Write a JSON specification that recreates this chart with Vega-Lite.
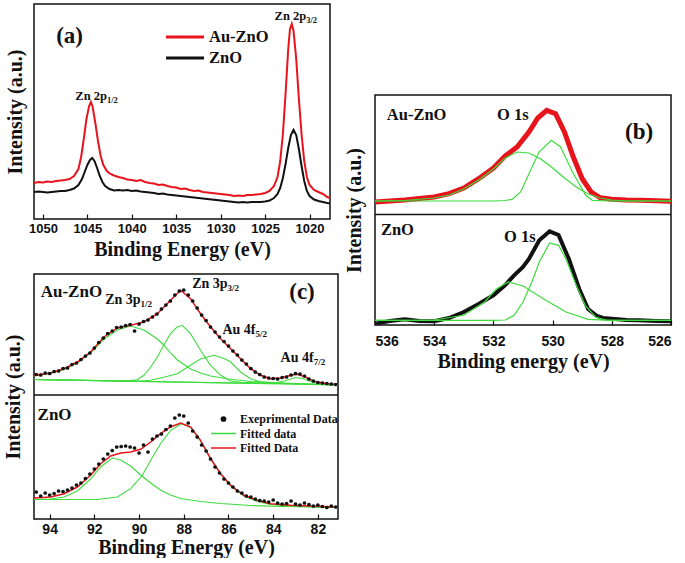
{
"$schema": "https://vega.github.io/schema/vega-lite/v6.json",
"padding": {"left": 2, "top": 3, "right": 2, "bottom": 0},
"config": {
 "view": {"stroke": "#111", "strokeWidth": 1.5},
 "axis": {"grid": false, "domain": false, "labelFont": "Liberation Sans", "labelFontWeight": "bold", "labelFontSize": 13, "labelColor": "#111", "titleFont": "Liberation Serif", "titleFontWeight": "bold", "titleFontSize": 20, "titleColor": "#111", "tickColor": "#111", "tickSize": -5, "tickWidth": 1.2, "minExtent": 0, "format": "d"},
 "axisY": {"labels": false, "ticks": false},
 "text": {"font": "Liberation Serif", "fontWeight": "bold", "color": "#111"},
 "legend": {"labelFont": "Liberation Serif", "labelFontWeight": "bold", "labelColor": "#111", "padding": 0, "orient": "none"}
},
"datasets": {
 "a": [
  {"e":1051.0,"v":36,"s":"Au-ZnO"},{"e":1050.5,"v":37,"s":"Au-ZnO"},{"e":1050.0,"v":36.5,"s":"Au-ZnO"},{"e":1049.5,"v":37.5,"s":"Au-ZnO"},{"e":1049.0,"v":37,"s":"Au-ZnO"},{"e":1048.5,"v":38,"s":"Au-ZnO"},{"e":1048.0,"v":38.5,"s":"Au-ZnO"},{"e":1047.5,"v":39,"s":"Au-ZnO"},{"e":1047.0,"v":40,"s":"Au-ZnO"},{"e":1046.5,"v":43,"s":"Au-ZnO"},{"e":1046.0,"v":50,"s":"Au-ZnO"},{"e":1045.7,"v":62,"s":"Au-ZnO"},{"e":1045.4,"v":80,"s":"Au-ZnO"},{"e":1045.1,"v":100,"s":"Au-ZnO"},{"e":1044.8,"v":113,"s":"Au-ZnO"},{"e":1044.6,"v":117,"s":"Au-ZnO"},{"e":1044.4,"v":112,"s":"Au-ZnO"},{"e":1044.1,"v":96,"s":"Au-ZnO"},{"e":1043.8,"v":78,"s":"Au-ZnO"},{"e":1043.5,"v":63,"s":"Au-ZnO"},{"e":1043.2,"v":54,"s":"Au-ZnO"},{"e":1042.8,"v":48,"s":"Au-ZnO"},{"e":1042.4,"v":45,"s":"Au-ZnO"},{"e":1042.0,"v":43.5,"s":"Au-ZnO"},{"e":1041.5,"v":42,"s":"Au-ZnO"},{"e":1041.0,"v":41,"s":"Au-ZnO"},{"e":1040.5,"v":39.5,"s":"Au-ZnO"},{"e":1040.0,"v":39,"s":"Au-ZnO"},{"e":1039.5,"v":38,"s":"Au-ZnO"},{"e":1039.0,"v":39,"s":"Au-ZnO"},{"e":1038.5,"v":37,"s":"Au-ZnO"},{"e":1038.0,"v":36,"s":"Au-ZnO"},{"e":1037.5,"v":35.5,"s":"Au-ZnO"},{"e":1037.0,"v":34,"s":"Au-ZnO"},{"e":1036.5,"v":34.5,"s":"Au-ZnO"},{"e":1036.0,"v":33,"s":"Au-ZnO"},{"e":1035.5,"v":32,"s":"Au-ZnO"},{"e":1035.0,"v":31.5,"s":"Au-ZnO"},{"e":1034.5,"v":30,"s":"Au-ZnO"},{"e":1034.0,"v":30.5,"s":"Au-ZnO"},{"e":1033.5,"v":29,"s":"Au-ZnO"},{"e":1033.0,"v":28,"s":"Au-ZnO"},{"e":1032.5,"v":28.5,"s":"Au-ZnO"},{"e":1032.0,"v":27,"s":"Au-ZnO"},{"e":1031.5,"v":26.5,"s":"Au-ZnO"},{"e":1031.0,"v":26,"s":"Au-ZnO"},{"e":1030.5,"v":25.5,"s":"Au-ZnO"},{"e":1030.0,"v":25,"s":"Au-ZnO"},{"e":1029.5,"v":24.5,"s":"Au-ZnO"},{"e":1029.0,"v":24,"s":"Au-ZnO"},{"e":1028.5,"v":23,"s":"Au-ZnO"},{"e":1028.0,"v":23.5,"s":"Au-ZnO"},{"e":1027.5,"v":23,"s":"Au-ZnO"},{"e":1027.0,"v":24,"s":"Au-ZnO"},{"e":1026.5,"v":24,"s":"Au-ZnO"},{"e":1026.0,"v":24.5,"s":"Au-ZnO"},{"e":1025.5,"v":25,"s":"Au-ZnO"},{"e":1025.0,"v":26,"s":"Au-ZnO"},{"e":1024.5,"v":28,"s":"Au-ZnO"},{"e":1024.0,"v":33,"s":"Au-ZnO"},{"e":1023.6,"v":42,"s":"Au-ZnO"},{"e":1023.3,"v":58,"s":"Au-ZnO"},{"e":1023.0,"v":85,"s":"Au-ZnO"},{"e":1022.7,"v":125,"s":"Au-ZnO"},{"e":1022.4,"v":170,"s":"Au-ZnO"},{"e":1022.2,"v":190,"s":"Au-ZnO"},{"e":1022.0,"v":195,"s":"Au-ZnO"},{"e":1021.8,"v":188,"s":"Au-ZnO"},{"e":1021.5,"v":160,"s":"Au-ZnO"},{"e":1021.2,"v":120,"s":"Au-ZnO"},{"e":1020.9,"v":85,"s":"Au-ZnO"},{"e":1020.6,"v":58,"s":"Au-ZnO"},{"e":1020.3,"v":42,"s":"Au-ZnO"},{"e":1020.0,"v":34,"s":"Au-ZnO"},{"e":1019.5,"v":29,"s":"Au-ZnO"},{"e":1019.0,"v":27,"s":"Au-ZnO"},{"e":1018.5,"v":25,"s":"Au-ZnO"},{"e":1018.0,"v":22,"s":"Au-ZnO"},{"e":1017.7,"v":21,"s":"Au-ZnO"},
  {"e":1051.0,"v":27,"s":"ZnO"},{"e":1050.5,"v":27.5,"s":"ZnO"},{"e":1050.0,"v":27,"s":"ZnO"},{"e":1049.5,"v":26.5,"s":"ZnO"},{"e":1049.0,"v":27,"s":"ZnO"},{"e":1048.5,"v":27.5,"s":"ZnO"},{"e":1048.0,"v":28,"s":"ZnO"},{"e":1047.5,"v":28,"s":"ZnO"},{"e":1047.0,"v":29,"s":"ZnO"},{"e":1046.5,"v":30.5,"s":"ZnO"},{"e":1046.0,"v":34,"s":"ZnO"},{"e":1045.6,"v":40,"s":"ZnO"},{"e":1045.3,"v":47,"s":"ZnO"},{"e":1045.0,"v":54,"s":"ZnO"},{"e":1044.7,"v":59,"s":"ZnO"},{"e":1044.45,"v":61,"s":"ZnO"},{"e":1044.2,"v":58,"s":"ZnO"},{"e":1043.9,"v":51,"s":"ZnO"},{"e":1043.6,"v":43,"s":"ZnO"},{"e":1043.3,"v":37,"s":"ZnO"},{"e":1043.0,"v":33,"s":"ZnO"},{"e":1042.5,"v":30,"s":"ZnO"},{"e":1042.0,"v":28.5,"s":"ZnO"},{"e":1041.5,"v":29,"s":"ZnO"},{"e":1041.0,"v":28.5,"s":"ZnO"},{"e":1040.5,"v":29,"s":"ZnO"},{"e":1040.0,"v":28,"s":"ZnO"},{"e":1039.5,"v":28.5,"s":"ZnO"},{"e":1039.0,"v":27.5,"s":"ZnO"},{"e":1038.5,"v":27,"s":"ZnO"},{"e":1038.0,"v":26.5,"s":"ZnO"},{"e":1037.5,"v":26,"s":"ZnO"},{"e":1037.0,"v":25,"s":"ZnO"},{"e":1036.5,"v":25.5,"s":"ZnO"},{"e":1036.0,"v":24.5,"s":"ZnO"},{"e":1035.5,"v":24,"s":"ZnO"},{"e":1035.0,"v":23.5,"s":"ZnO"},{"e":1034.5,"v":23,"s":"ZnO"},{"e":1034.0,"v":22.5,"s":"ZnO"},{"e":1033.5,"v":22,"s":"ZnO"},{"e":1033.0,"v":21.5,"s":"ZnO"},{"e":1032.5,"v":21,"s":"ZnO"},{"e":1032.0,"v":20.5,"s":"ZnO"},{"e":1031.5,"v":20,"s":"ZnO"},{"e":1031.0,"v":19.5,"s":"ZnO"},{"e":1030.5,"v":19,"s":"ZnO"},{"e":1030.0,"v":18.5,"s":"ZnO"},{"e":1029.5,"v":18,"s":"ZnO"},{"e":1029.0,"v":17.5,"s":"ZnO"},{"e":1028.5,"v":17,"s":"ZnO"},{"e":1028.0,"v":16.5,"s":"ZnO"},{"e":1027.5,"v":17,"s":"ZnO"},{"e":1027.0,"v":16.5,"s":"ZnO"},{"e":1026.5,"v":17,"s":"ZnO"},{"e":1026.0,"v":17,"s":"ZnO"},{"e":1025.5,"v":17,"s":"ZnO"},{"e":1025.0,"v":17.5,"s":"ZnO"},{"e":1024.5,"v":18.5,"s":"ZnO"},{"e":1024.0,"v":21,"s":"ZnO"},{"e":1023.6,"v":25,"s":"ZnO"},{"e":1023.3,"v":31,"s":"ZnO"},{"e":1023.0,"v":41,"s":"ZnO"},{"e":1022.7,"v":55,"s":"ZnO"},{"e":1022.4,"v":71,"s":"ZnO"},{"e":1022.1,"v":84,"s":"ZnO"},{"e":1021.8,"v":89,"s":"ZnO"},{"e":1021.5,"v":84,"s":"ZnO"},{"e":1021.2,"v":70,"s":"ZnO"},{"e":1020.9,"v":53,"s":"ZnO"},{"e":1020.6,"v":38,"s":"ZnO"},{"e":1020.3,"v":28,"s":"ZnO"},{"e":1020.0,"v":23,"s":"ZnO"},{"e":1019.5,"v":19.5,"s":"ZnO"},{"e":1019.0,"v":18,"s":"ZnO"},{"e":1018.5,"v":17,"s":"ZnO"},{"e":1018.0,"v":16,"s":"ZnO"},{"e":1017.7,"v":15.5,"s":"ZnO"}
 ],
 "annA_main": [{"e":1042.79,"v":123,"t":"Zn 2p"},{"e":1020.38,"v":203,"t":"Zn 2p"}],
 "annA_sub": [{"e":1042.79,"v":119,"t":"1/2"},{"e":1020.38,"v":199,"t":"3/2"}],
 "annA_label": [{"e":1047.0,"v":183,"t":"(a)"}],
 "b": [
  {"e":536,"v":123,"g":"uRed"},{"e":535.5,"v":124,"g":"uRed"},{"e":535,"v":125,"g":"uRed"},{"e":534.5,"v":126.5,"g":"uRed"},{"e":534,"v":128,"g":"uRed"},{"e":533.5,"v":131.3,"g":"uRed"},{"e":533,"v":137,"g":"uRed"},{"e":532.5,"v":146.3,"g":"uRed"},{"e":532,"v":157,"g":"uRed"},{"e":531.6,"v":169,"g":"uRed"},{"e":531.2,"v":178,"g":"uRed"},{"e":530.8,"v":193,"g":"uRed"},{"e":530.5,"v":207,"g":"uRed"},{"e":530.2,"v":214.7,"g":"uRed"},{"e":529.9,"v":211.3,"g":"uRed"},{"e":529.6,"v":193,"g":"uRed"},{"e":529.3,"v":168,"g":"uRed"},{"e":529.0,"v":146.3,"g":"uRed"},{"e":528.7,"v":133,"g":"uRed"},{"e":528.4,"v":127.3,"g":"uRed"},{"e":528.0,"v":125.7,"g":"uRed"},{"e":527.5,"v":125,"g":"uRed"},{"e":527,"v":124.7,"g":"uRed"},{"e":526.5,"v":124.2,"g":"uRed"},{"e":526,"v":123.7,"g":"uRed"},
  {"e":536,"v":124,"g":"uG1"},{"e":535,"v":124.5,"g":"uG1"},{"e":534,"v":127,"g":"uG1"},{"e":533.5,"v":130,"g":"uG1"},{"e":533,"v":136,"g":"uG1"},{"e":532.5,"v":145,"g":"uG1"},{"e":532,"v":156,"g":"uG1"},{"e":531.6,"v":167,"g":"uG1"},{"e":531.2,"v":173,"g":"uG1"},{"e":530.8,"v":172,"g":"uG1"},{"e":530.4,"v":166,"g":"uG1"},{"e":530,"v":157,"g":"uG1"},{"e":529.6,"v":147,"g":"uG1"},{"e":529.2,"v":138,"g":"uG1"},{"e":528.8,"v":131,"g":"uG1"},{"e":528.4,"v":127,"g":"uG1"},{"e":528,"v":125,"g":"uG1"},{"e":527.5,"v":124,"g":"uG1"},{"e":526,"v":124,"g":"uG1"},
  {"e":536,"v":124,"g":"uG2"},{"e":532,"v":124,"g":"uG2"},{"e":531.6,"v":124.5,"g":"uG2"},{"e":531.36,"v":125.7,"g":"uG2"},{"e":531.08,"v":133,"g":"uG2"},{"e":530.46,"v":173,"g":"uG2"},{"e":530.04,"v":184.7,"g":"uG2"},{"e":529.73,"v":178,"g":"uG2"},{"e":529.33,"v":153,"g":"uG2"},{"e":528.88,"v":129.7,"g":"uG2"},{"e":528.66,"v":124.7,"g":"uG2"},{"e":528,"v":124,"g":"uG2"},{"e":526,"v":124,"g":"uG2"},
  {"e":536,"v":1.3,"g":"lBlack"},{"e":535.5,"v":4,"g":"lBlack"},{"e":535,"v":5.7,"g":"lBlack"},{"e":534.5,"v":4,"g":"lBlack"},{"e":534,"v":3.7,"g":"lBlack"},{"e":533.5,"v":7,"g":"lBlack"},{"e":533,"v":13,"g":"lBlack"},{"e":532.5,"v":21,"g":"lBlack"},{"e":532,"v":29.7,"g":"lBlack"},{"e":531.6,"v":40,"g":"lBlack"},{"e":531.3,"v":49.7,"g":"lBlack"},{"e":531,"v":58,"g":"lBlack"},{"e":530.8,"v":66,"g":"lBlack"},{"e":530.45,"v":84.7,"g":"lBlack"},{"e":530.1,"v":93.7,"g":"lBlack"},{"e":529.8,"v":90,"g":"lBlack"},{"e":529.45,"v":66,"g":"lBlack"},{"e":529.1,"v":36,"g":"lBlack"},{"e":528.8,"v":16,"g":"lBlack"},{"e":528.5,"v":9,"g":"lBlack"},{"e":528.3,"v":7,"g":"lBlack"},{"e":527.5,"v":5,"g":"lBlack"},{"e":527.1,"v":4.7,"g":"lBlack"},{"e":526.5,"v":4,"g":"lBlack"},{"e":526,"v":3.7,"g":"lBlack"},
  {"e":536,"v":4.7,"g":"lG1"},{"e":534,"v":5,"g":"lG1"},{"e":533,"v":9.7,"g":"lG1"},{"e":532.3,"v":23,"g":"lG1"},{"e":531.9,"v":36,"g":"lG1"},{"e":531.5,"v":43,"g":"lG1"},{"e":531,"v":39,"g":"lG1"},{"e":530.3,"v":26,"g":"lG1"},{"e":529.55,"v":13,"g":"lG1"},{"e":528.8,"v":5.7,"g":"lG1"},{"e":528,"v":4.7,"g":"lG1"},{"e":526,"v":4.7,"g":"lG1"},
  {"e":536,"v":4.7,"g":"lG2"},{"e":532,"v":4.7,"g":"lG2"},{"e":531.6,"v":5,"g":"lG2"},{"e":531.3,"v":9.7,"g":"lG2"},{"e":531,"v":23,"g":"lG2"},{"e":530.7,"v":43,"g":"lG2"},{"e":530.45,"v":63,"g":"lG2"},{"e":530.1,"v":82,"g":"lG2"},{"e":529.8,"v":79.7,"g":"lG2"},{"e":529.55,"v":66,"g":"lG2"},{"e":529.2,"v":39.7,"g":"lG2"},{"e":528.9,"v":19.7,"g":"lG2"},{"e":528.55,"v":8,"g":"lG2"},{"e":528.2,"v":5,"g":"lG2"},{"e":526,"v":4.7,"g":"lG2"}
 ],
 "annB_text": [{"e":535.6,"v":210,"t":"Au-ZnO"},{"e":531.88,"v":210,"t":"O 1s"},{"e":535.8,"v":95,"t":"ZnO"},{"e":531.64,"v":88,"t":"O 1s"}],
 "annB_label": [{"e":527.08,"v":193,"t":"(b)"}],
 "c": [
  {"e":94.6,"v":144.5,"s":"Exeprimental Data","g":"uDot"},{"e":94.4,"v":144,"s":"Exeprimental Data","g":"uDot"},{"e":94.2,"v":146,"s":"Exeprimental Data","g":"uDot"},{"e":94.0,"v":145.5,"s":"Exeprimental Data","g":"uDot"},{"e":93.8,"v":147.5,"s":"Exeprimental Data","g":"uDot"},{"e":93.6,"v":148,"s":"Exeprimental Data","g":"uDot"},{"e":93.4,"v":150.5,"s":"Exeprimental Data","g":"uDot"},{"e":93.2,"v":151,"s":"Exeprimental Data","g":"uDot"},{"e":93.0,"v":154.5,"s":"Exeprimental Data","g":"uDot"},{"e":92.8,"v":156,"s":"Exeprimental Data","g":"uDot"},{"e":92.6,"v":159.5,"s":"Exeprimental Data","g":"uDot"},{"e":92.4,"v":163,"s":"Exeprimental Data","g":"uDot"},{"e":92.2,"v":166,"s":"Exeprimental Data","g":"uDot"},{"e":92.0,"v":171,"s":"Exeprimental Data","g":"uDot"},{"e":91.8,"v":176.5,"s":"Exeprimental Data","g":"uDot"},{"e":91.6,"v":181,"s":"Exeprimental Data","g":"uDot"},{"e":91.4,"v":185.5,"s":"Exeprimental Data","g":"uDot"},{"e":91.2,"v":188,"s":"Exeprimental Data","g":"uDot"},{"e":91.0,"v":191.5,"s":"Exeprimental Data","g":"uDot"},{"e":90.8,"v":192,"s":"Exeprimental Data","g":"uDot"},{"e":90.6,"v":193.5,"s":"Exeprimental Data","g":"uDot"},{"e":90.4,"v":194.5,"s":"Exeprimental Data","g":"uDot"},{"e":90.2,"v":188,"s":"Exeprimental Data","g":"uDot"},{"e":90.0,"v":195,"s":"Exeprimental Data","g":"uDot"},{"e":89.8,"v":197.5,"s":"Exeprimental Data","g":"uDot"},{"e":89.6,"v":199,"s":"Exeprimental Data","g":"uDot"},{"e":89.4,"v":202,"s":"Exeprimental Data","g":"uDot"},{"e":89.2,"v":205,"s":"Exeprimental Data","g":"uDot"},{"e":89.0,"v":210,"s":"Exeprimental Data","g":"uDot"},{"e":88.8,"v":214,"s":"Exeprimental Data","g":"uDot"},{"e":88.6,"v":218,"s":"Exeprimental Data","g":"uDot"},{"e":88.4,"v":224,"s":"Exeprimental Data","g":"uDot"},{"e":88.2,"v":228,"s":"Exeprimental Data","g":"uDot"},{"e":88.0,"v":229,"s":"Exeprimental Data","g":"uDot"},{"e":87.8,"v":224,"s":"Exeprimental Data","g":"uDot"},{"e":87.6,"v":218,"s":"Exeprimental Data","g":"uDot"},{"e":87.4,"v":211,"s":"Exeprimental Data","g":"uDot"},{"e":87.2,"v":204,"s":"Exeprimental Data","g":"uDot"},{"e":87.0,"v":198.5,"s":"Exeprimental Data","g":"uDot"},{"e":86.8,"v":192,"s":"Exeprimental Data","g":"uDot"},{"e":86.6,"v":187,"s":"Exeprimental Data","g":"uDot"},{"e":86.4,"v":182,"s":"Exeprimental Data","g":"uDot"},{"e":86.2,"v":177.5,"s":"Exeprimental Data","g":"uDot"},{"e":86.0,"v":173,"s":"Exeprimental Data","g":"uDot"},{"e":85.8,"v":168,"s":"Exeprimental Data","g":"uDot"},{"e":85.6,"v":164,"s":"Exeprimental Data","g":"uDot"},{"e":85.4,"v":159,"s":"Exeprimental Data","g":"uDot"},{"e":85.2,"v":155,"s":"Exeprimental Data","g":"uDot"},{"e":85.0,"v":150.5,"s":"Exeprimental Data","g":"uDot"},{"e":84.8,"v":147,"s":"Exeprimental Data","g":"uDot"},{"e":84.6,"v":144.5,"s":"Exeprimental Data","g":"uDot"},{"e":84.4,"v":142,"s":"Exeprimental Data","g":"uDot"},{"e":84.2,"v":141,"s":"Exeprimental Data","g":"uDot"},{"e":84.0,"v":140.5,"s":"Exeprimental Data","g":"uDot"},{"e":83.8,"v":140,"s":"Exeprimental Data","g":"uDot"},{"e":83.6,"v":141.5,"s":"Exeprimental Data","g":"uDot"},{"e":83.4,"v":142,"s":"Exeprimental Data","g":"uDot"},{"e":83.2,"v":144,"s":"Exeprimental Data","g":"uDot"},{"e":83.0,"v":145.5,"s":"Exeprimental Data","g":"uDot"},{"e":82.8,"v":145,"s":"Exeprimental Data","g":"uDot"},{"e":82.6,"v":143,"s":"Exeprimental Data","g":"uDot"},{"e":82.4,"v":140,"s":"Exeprimental Data","g":"uDot"},{"e":82.2,"v":138,"s":"Exeprimental Data","g":"uDot"},{"e":82.0,"v":136.5,"s":"Exeprimental Data","g":"uDot"},{"e":81.8,"v":136,"s":"Exeprimental Data","g":"uDot"},{"e":81.6,"v":135.5,"s":"Exeprimental Data","g":"uDot"},{"e":81.4,"v":135,"s":"Exeprimental Data","g":"uDot"},{"e":81.2,"v":134.5,"s":"Exeprimental Data","g":"uDot"},
  {"e":94.6,"v":27,"s":"Exeprimental Data","g":"lDot"},{"e":94.4,"v":23,"s":"Exeprimental Data","g":"lDot"},{"e":94.2,"v":26,"s":"Exeprimental Data","g":"lDot"},{"e":94.0,"v":24,"s":"Exeprimental Data","g":"lDot"},{"e":93.8,"v":25.5,"s":"Exeprimental Data","g":"lDot"},{"e":93.6,"v":28,"s":"Exeprimental Data","g":"lDot"},{"e":93.4,"v":27.5,"s":"Exeprimental Data","g":"lDot"},{"e":93.2,"v":29,"s":"Exeprimental Data","g":"lDot"},{"e":93.0,"v":31,"s":"Exeprimental Data","g":"lDot"},{"e":92.8,"v":34,"s":"Exeprimental Data","g":"lDot"},{"e":92.6,"v":36,"s":"Exeprimental Data","g":"lDot"},{"e":92.4,"v":40.5,"s":"Exeprimental Data","g":"lDot"},{"e":92.2,"v":45,"s":"Exeprimental Data","g":"lDot"},{"e":92.0,"v":50,"s":"Exeprimental Data","g":"lDot"},{"e":91.8,"v":55,"s":"Exeprimental Data","g":"lDot"},{"e":91.6,"v":60,"s":"Exeprimental Data","g":"lDot"},{"e":91.4,"v":65,"s":"Exeprimental Data","g":"lDot"},{"e":91.2,"v":68.5,"s":"Exeprimental Data","g":"lDot"},{"e":91.0,"v":72,"s":"Exeprimental Data","g":"lDot"},{"e":90.8,"v":72.5,"s":"Exeprimental Data","g":"lDot"},{"e":90.6,"v":73,"s":"Exeprimental Data","g":"lDot"},{"e":90.4,"v":72,"s":"Exeprimental Data","g":"lDot"},{"e":90.2,"v":71,"s":"Exeprimental Data","g":"lDot"},{"e":90.0,"v":66,"s":"Exeprimental Data","g":"lDot"},{"e":89.8,"v":74,"s":"Exeprimental Data","g":"lDot"},{"e":89.6,"v":67,"s":"Exeprimental Data","g":"lDot"},{"e":89.4,"v":80,"s":"Exeprimental Data","g":"lDot"},{"e":89.2,"v":83,"s":"Exeprimental Data","g":"lDot"},{"e":89.0,"v":85,"s":"Exeprimental Data","g":"lDot"},{"e":88.8,"v":89.5,"s":"Exeprimental Data","g":"lDot"},{"e":88.6,"v":93,"s":"Exeprimental Data","g":"lDot"},{"e":88.4,"v":101,"s":"Exeprimental Data","g":"lDot"},{"e":88.2,"v":104,"s":"Exeprimental Data","g":"lDot"},{"e":88.0,"v":103,"s":"Exeprimental Data","g":"lDot"},{"e":87.8,"v":96,"s":"Exeprimental Data","g":"lDot"},{"e":87.6,"v":88,"s":"Exeprimental Data","g":"lDot"},{"e":87.4,"v":82,"s":"Exeprimental Data","g":"lDot"},{"e":87.2,"v":74,"s":"Exeprimental Data","g":"lDot"},{"e":87.0,"v":68,"s":"Exeprimental Data","g":"lDot"},{"e":86.8,"v":60,"s":"Exeprimental Data","g":"lDot"},{"e":86.6,"v":52,"s":"Exeprimental Data","g":"lDot"},{"e":86.4,"v":46,"s":"Exeprimental Data","g":"lDot"},{"e":86.2,"v":40,"s":"Exeprimental Data","g":"lDot"},{"e":86.0,"v":36,"s":"Exeprimental Data","g":"lDot"},{"e":85.8,"v":32,"s":"Exeprimental Data","g":"lDot"},{"e":85.6,"v":28,"s":"Exeprimental Data","g":"lDot"},{"e":85.4,"v":26,"s":"Exeprimental Data","g":"lDot"},{"e":85.2,"v":23,"s":"Exeprimental Data","g":"lDot"},{"e":85.0,"v":22,"s":"Exeprimental Data","g":"lDot"},{"e":84.8,"v":20,"s":"Exeprimental Data","g":"lDot"},{"e":84.6,"v":18.5,"s":"Exeprimental Data","g":"lDot"},{"e":84.4,"v":18,"s":"Exeprimental Data","g":"lDot"},{"e":84.2,"v":17,"s":"Exeprimental Data","g":"lDot"},{"e":84.0,"v":19,"s":"Exeprimental Data","g":"lDot"},{"e":83.8,"v":16,"s":"Exeprimental Data","g":"lDot"},{"e":83.6,"v":15,"s":"Exeprimental Data","g":"lDot"},{"e":83.4,"v":15.5,"s":"Exeprimental Data","g":"lDot"},{"e":83.2,"v":18,"s":"Exeprimental Data","g":"lDot"},{"e":83.0,"v":15,"s":"Exeprimental Data","g":"lDot"},{"e":82.8,"v":14,"s":"Exeprimental Data","g":"lDot"},{"e":82.6,"v":16,"s":"Exeprimental Data","g":"lDot"},{"e":82.4,"v":14.5,"s":"Exeprimental Data","g":"lDot"},{"e":82.2,"v":13,"s":"Exeprimental Data","g":"lDot"},{"e":82.0,"v":14,"s":"Exeprimental Data","g":"lDot"},{"e":81.8,"v":12.5,"s":"Exeprimental Data","g":"lDot"},{"e":81.6,"v":11.5,"s":"Exeprimental Data","g":"lDot"},{"e":81.4,"v":13,"s":"Exeprimental Data","g":"lDot"},{"e":81.2,"v":12,"s":"Exeprimental Data","g":"lDot"},
  {"e":94.7,"v":143.7,"s":"Fitted Data","g":"uFit"},{"e":93.96,"v":146,"s":"Fitted Data","g":"uFit"},{"e":93.36,"v":150.3,"s":"Fitted Data","g":"uFit"},{"e":92.76,"v":157,"s":"Fitted Data","g":"uFit"},{"e":92.17,"v":167,"s":"Fitted Data","g":"uFit"},{"e":91.57,"v":182,"s":"Fitted Data","g":"uFit"},{"e":90.97,"v":191,"s":"Fitted Data","g":"uFit"},{"e":90.38,"v":193.7,"s":"Fitted Data","g":"uFit"},{"e":89.78,"v":197,"s":"Fitted Data","g":"uFit"},{"e":89.18,"v":205.3,"s":"Fitted Data","g":"uFit"},{"e":88.59,"v":218.7,"s":"Fitted Data","g":"uFit"},{"e":88.14,"v":228.7,"s":"Fitted Data","g":"uFit"},{"e":87.7,"v":220.3,"s":"Fitted Data","g":"uFit"},{"e":87.25,"v":205.3,"s":"Fitted Data","g":"uFit"},{"e":86.8,"v":192,"s":"Fitted Data","g":"uFit"},{"e":86.35,"v":180.3,"s":"Fitted Data","g":"uFit"},{"e":85.9,"v":170.3,"s":"Fitted Data","g":"uFit"},{"e":85.46,"v":160.3,"s":"Fitted Data","g":"uFit"},{"e":85.01,"v":150.3,"s":"Fitted Data","g":"uFit"},{"e":84.56,"v":143.7,"s":"Fitted Data","g":"uFit"},{"e":84.12,"v":140.3,"s":"Fitted Data","g":"uFit"},{"e":83.67,"v":141,"s":"Fitted Data","g":"uFit"},{"e":83.22,"v":143.7,"s":"Fitted Data","g":"uFit"},{"e":82.92,"v":144.7,"s":"Fitted Data","g":"uFit"},{"e":82.55,"v":142,"s":"Fitted Data","g":"uFit"},{"e":82.18,"v":137.7,"s":"Fitted Data","g":"uFit"},{"e":81.58,"v":135.3,"s":"Fitted Data","g":"uFit"},{"e":81.13,"v":134.7,"s":"Fitted Data","g":"uFit"},
  {"e":94.7,"v":21,"s":"Fitted Data","g":"lFit"},{"e":93.96,"v":22,"s":"Fitted Data","g":"lFit"},{"e":93.36,"v":25.3,"s":"Fitted Data","g":"lFit"},{"e":92.76,"v":32,"s":"Fitted Data","g":"lFit"},{"e":92.17,"v":43.7,"s":"Fitted Data","g":"lFit"},{"e":91.72,"v":55.3,"s":"Fitted Data","g":"lFit"},{"e":91.27,"v":63,"s":"Fitted Data","g":"lFit"},{"e":90.82,"v":66,"s":"Fitted Data","g":"lFit"},{"e":90.38,"v":67,"s":"Fitted Data","g":"lFit"},{"e":89.93,"v":69.7,"s":"Fitted Data","g":"lFit"},{"e":89.48,"v":77,"s":"Fitted Data","g":"lFit"},{"e":89.04,"v":85.3,"s":"Fitted Data","g":"lFit"},{"e":88.59,"v":92,"s":"Fitted Data","g":"lFit"},{"e":88.14,"v":96,"s":"Fitted Data","g":"lFit"},{"e":87.69,"v":92,"s":"Fitted Data","g":"lFit"},{"e":87.25,"v":78.7,"s":"Fitted Data","g":"lFit"},{"e":86.8,"v":60.3,"s":"Fitted Data","g":"lFit"},{"e":86.35,"v":45.3,"s":"Fitted Data","g":"lFit"},{"e":85.9,"v":33.7,"s":"Fitted Data","g":"lFit"},{"e":85.31,"v":23.7,"s":"Fitted Data","g":"lFit"},{"e":84.71,"v":18.7,"s":"Fitted Data","g":"lFit"},{"e":84.12,"v":15.3,"s":"Fitted Data","g":"lFit"},{"e":83.22,"v":13.7,"s":"Fitted Data","g":"lFit"},{"e":82.03,"v":12.7,"s":"Fitted Data","g":"lFit"},{"e":81.13,"v":12,"s":"Fitted Data","g":"lFit"},
  {"e":94.7,"v":139.5,"s":"Fitted data","g":"uBase"},{"e":90,"v":137.6,"s":"Fitted data","g":"uBase"},{"e":86,"v":136,"s":"Fitted data","g":"uBase"},{"e":81.1,"v":134,"s":"Fitted data","g":"uBase"},
  {"e":94.7,"v":143,"s":"Fitted data","g":"uC1"},{"e":93.96,"v":145.5,"s":"Fitted data","g":"uC1"},{"e":93.36,"v":149.5,"s":"Fitted data","g":"uC1"},{"e":92.76,"v":156,"s":"Fitted data","g":"uC1"},{"e":92.17,"v":166,"s":"Fitted data","g":"uC1"},{"e":91.57,"v":180,"s":"Fitted data","g":"uC1"},{"e":90.97,"v":189,"s":"Fitted data","g":"uC1"},{"e":90.38,"v":193,"s":"Fitted data","g":"uC1"},{"e":89.78,"v":189,"s":"Fitted data","g":"uC1"},{"e":89.18,"v":180,"s":"Fitted data","g":"uC1"},{"e":88.9,"v":174,"s":"Fitted data","g":"uC1"},{"e":88.59,"v":166,"s":"Fitted data","g":"uC1"},{"e":88.29,"v":159,"s":"Fitted data","g":"uC1"},{"e":87.69,"v":150,"s":"Fitted data","g":"uC1"},{"e":87.25,"v":146,"s":"Fitted data","g":"uC1"},{"e":86.8,"v":143,"s":"Fitted data","g":"uC1"},{"e":86.0,"v":140,"s":"Fitted data","g":"uC1"},{"e":85.0,"v":137.5,"s":"Fitted data","g":"uC1"},{"e":84.0,"v":136.5,"s":"Fitted data","g":"uC1"},{"e":83.0,"v":135.5,"s":"Fitted data","g":"uC1"},{"e":81.1,"v":134,"s":"Fitted data","g":"uC1"},
  {"e":94.7,"v":139.5,"s":"Fitted data","g":"uC2"},{"e":91,"v":138.3,"s":"Fitted data","g":"uC2"},{"e":90.4,"v":138.5,"s":"Fitted data","g":"uC2"},{"e":90.08,"v":139.3,"s":"Fitted data","g":"uC2"},{"e":89.78,"v":143.7,"s":"Fitted data","g":"uC2"},{"e":89.48,"v":152,"s":"Fitted data","g":"uC2"},{"e":89.18,"v":162,"s":"Fitted data","g":"uC2"},{"e":88.9,"v":173.7,"s":"Fitted data","g":"uC2"},{"e":88.59,"v":185.3,"s":"Fitted data","g":"uC2"},{"e":88.3,"v":192,"s":"Fitted data","g":"uC2"},{"e":88.07,"v":193.7,"s":"Fitted data","g":"uC2"},{"e":87.7,"v":185.3,"s":"Fitted data","g":"uC2"},{"e":87.25,"v":168.7,"s":"Fitted data","g":"uC2"},{"e":86.8,"v":153.7,"s":"Fitted data","g":"uC2"},{"e":86.35,"v":143.7,"s":"Fitted data","g":"uC2"},{"e":85.9,"v":138,"s":"Fitted data","g":"uC2"},{"e":85.46,"v":136.7,"s":"Fitted data","g":"uC2"},{"e":84,"v":135.8,"s":"Fitted data","g":"uC2"},{"e":81.1,"v":134,"s":"Fitted data","g":"uC2"},
  {"e":94.7,"v":139.5,"s":"Fitted data","g":"uC3"},{"e":90,"v":137.6,"s":"Fitted data","g":"uC3"},{"e":89.48,"v":138.7,"s":"Fitted data","g":"uC3"},{"e":88.9,"v":141.7,"s":"Fitted data","g":"uC3"},{"e":88.29,"v":145.3,"s":"Fitted data","g":"uC3"},{"e":87.7,"v":153.7,"s":"Fitted data","g":"uC3"},{"e":87.25,"v":160,"s":"Fitted data","g":"uC3"},{"e":86.65,"v":163.7,"s":"Fitted data","g":"uC3"},{"e":86.2,"v":160.5,"s":"Fitted data","g":"uC3"},{"e":85.9,"v":157,"s":"Fitted data","g":"uC3"},{"e":85.46,"v":147,"s":"Fitted data","g":"uC3"},{"e":85.01,"v":140.3,"s":"Fitted data","g":"uC3"},{"e":84.56,"v":137,"s":"Fitted data","g":"uC3"},{"e":84,"v":136,"s":"Fitted data","g":"uC3"},{"e":81.1,"v":134,"s":"Fitted data","g":"uC3"},
  {"e":94.7,"v":139.5,"s":"Fitted data","g":"uC4"},{"e":84.5,"v":135.5,"s":"Fitted data","g":"uC4"},{"e":84,"v":135.8,"s":"Fitted data","g":"uC4"},{"e":83.5,"v":138,"s":"Fitted data","g":"uC4"},{"e":83.0,"v":141.5,"s":"Fitted data","g":"uC4"},{"e":82.6,"v":140,"s":"Fitted data","g":"uC4"},{"e":82.2,"v":136.5,"s":"Fitted data","g":"uC4"},{"e":81.8,"v":134.8,"s":"Fitted data","g":"uC4"},{"e":81.1,"v":134.2,"s":"Fitted data","g":"uC4"},
  {"e":94.7,"v":19.5,"s":"Fitted data","g":"lC1"},{"e":93.96,"v":20,"s":"Fitted data","g":"lC1"},{"e":93.36,"v":22,"s":"Fitted data","g":"lC1"},{"e":92.76,"v":28,"s":"Fitted data","g":"lC1"},{"e":92.17,"v":40,"s":"Fitted data","g":"lC1"},{"e":91.72,"v":52,"s":"Fitted data","g":"lC1"},{"e":91.2,"v":61,"s":"Fitted data","g":"lC1"},{"e":90.82,"v":59,"s":"Fitted data","g":"lC1"},{"e":90.38,"v":53,"s":"Fitted data","g":"lC1"},{"e":89.93,"v":44,"s":"Fitted data","g":"lC1"},{"e":89.48,"v":36,"s":"Fitted data","g":"lC1"},{"e":89.04,"v":29,"s":"Fitted data","g":"lC1"},{"e":88.59,"v":24,"s":"Fitted data","g":"lC1"},{"e":88.14,"v":20.5,"s":"Fitted data","g":"lC1"},{"e":87.25,"v":17.5,"s":"Fitted data","g":"lC1"},{"e":86.35,"v":15.5,"s":"Fitted data","g":"lC1"},{"e":85,"v":13.5,"s":"Fitted data","g":"lC1"},{"e":83.5,"v":12.5,"s":"Fitted data","g":"lC1"},{"e":81.1,"v":11.5,"s":"Fitted data","g":"lC1"},
  {"e":94.7,"v":19.5,"s":"Fitted data","g":"lC2"},{"e":91.87,"v":19.5,"s":"Fitted data","g":"lC2"},{"e":90.97,"v":22,"s":"Fitted data","g":"lC2"},{"e":90.38,"v":30.3,"s":"Fitted data","g":"lC2"},{"e":89.85,"v":43.7,"s":"Fitted data","g":"lC2"},{"e":89.48,"v":58.7,"s":"Fitted data","g":"lC2"},{"e":89.04,"v":75.3,"s":"Fitted data","g":"lC2"},{"e":88.59,"v":88.7,"s":"Fitted data","g":"lC2"},{"e":88.1,"v":95.3,"s":"Fitted data","g":"lC2"},{"e":87.69,"v":91.5,"s":"Fitted data","g":"lC2"},{"e":87.25,"v":78,"s":"Fitted data","g":"lC2"},{"e":86.8,"v":60,"s":"Fitted data","g":"lC2"},{"e":86.35,"v":45,"s":"Fitted data","g":"lC2"},{"e":85.9,"v":33,"s":"Fitted data","g":"lC2"},{"e":85.31,"v":23,"s":"Fitted data","g":"lC2"},{"e":84.71,"v":17.5,"s":"Fitted data","g":"lC2"},{"e":84.12,"v":14.5,"s":"Fitted data","g":"lC2"},{"e":83.22,"v":13,"s":"Fitted data","g":"lC2"},{"e":82.03,"v":12,"s":"Fitted data","g":"lC2"},{"e":81.1,"v":11.5,"s":"Fitted data","g":"lC2"}
 ],
 "annC_sample": [{"e":94.4,"v":227,"t":"Au-ZnO"},{"e":94.54,"v":104,"t":"ZnO"}],
 "annC_main": [{"e":89.93,"v":219,"t":"Zn 3p"},{"e":86.04,"v":235,"t":"Zn 3p"},{"e":84.79,"v":189,"t":"Au 4f"},{"e":82.19,"v":161,"t":"Au 4f"}],
 "annC_sub": [{"e":89.93,"v":215,"t":"1/2"},{"e":86.04,"v":231,"t":"3/2"},{"e":84.79,"v":185,"t":"5/2"},{"e":82.19,"v":157,"t":"7/2"}],
 "annC_label": [{"e":82.71,"v":227,"t":"(c)"}]
},
"spacing": 3,
"hconcat": [
 {
  "spacing": 12,
  "resolve": {"scale": {"color": "independent"}},
  "vconcat": [
   {
    "width": 296, "height": 215,
    "layer": [
     {"data": {"name": "a"}, "mark": {"type": "line", "strokeWidth": 2, "clip": true},
      "encoding": {
       "x": {"field": "e", "type": "quantitative", "scale": {"domain": [1051, 1017.7], "nice": false, "zero": false}, "axis": {"title": "Binding Energy (eV)", "values": [1050,1047.5,1045,1042.5,1040,1037.5,1035,1032.5,1030,1027.5,1025,1022.5,1020], "labelExpr": "datum.value % 5 === 0 ? datum.label : ''", "labelPadding": 8.5, "titlePadding": 4}},
       "y": {"field": "v", "type": "quantitative", "scale": {"domain": [0, 215], "nice": false, "zero": false}, "axis": {"title": "Intensity (a.u.)", "titlePadding": 9}},
       "color": {"field": "s", "type": "nominal", "scale": {"domain": ["Au-ZnO", "ZnO"], "range": ["#e8141c", "#111111"]}, "legend": {"title": null, "legendX": 140, "legendY": 22, "symbolType": "M-2,0H2", "symbolSize": 361, "symbolStrokeWidth": 3, "labelFontSize": 16.5, "rowPadding": 1, "labelOffset": 13}}
      }},
     {"data": {"name": "annA_main"}, "mark": {"type": "text", "align": "right", "baseline": "middle", "fontSize": 12.5},
      "encoding": {"x": {"field": "e", "type": "quantitative"}, "y": {"field": "v", "type": "quantitative"}, "text": {"field": "t"}}},
     {"data": {"name": "annA_sub"}, "mark": {"type": "text", "align": "left", "baseline": "middle", "fontSize": 8.5},
      "encoding": {"x": {"field": "e", "type": "quantitative"}, "y": {"field": "v", "type": "quantitative"}, "text": {"field": "t"}}},
     {"data": {"name": "annA_label"}, "mark": {"type": "text", "align": "center", "baseline": "middle", "fontSize": 23},
      "encoding": {"x": {"field": "e", "type": "quantitative"}, "y": {"field": "v", "type": "quantitative"}, "text": {"field": "t"}}}
    ]
   },
   {
    "width": 304, "height": 245,
    "layer": [
     {"data": {"name": "c"}, "transform": [{"filter": "datum.s === 'Fitted data'"}], "mark": {"type": "line", "strokeWidth": 1.1, "clip": true},
      "encoding": {
       "x": {"field": "e", "type": "quantitative", "scale": {"domain": [94.7, 81.1], "nice": false, "zero": false}, "axis": {"title": "Binding Energy (eV)", "values": [94,93,92,91,90,89,88,87,86,85,84,83,82], "labelExpr": "datum.value % 2 === 0 ? datum.label : ''", "labelPadding": 8, "titlePadding": 1, "labelFontSize": 14, "titleFontSize": 20}},
       "y": {"field": "v", "type": "quantitative", "scale": {"domain": [0, 245], "nice": false, "zero": false}, "axis": {"title": "Intensity (a.u.)", "titlePadding": 11}},
       "detail": {"field": "g"},
       "color": {"field": "s", "type": "nominal", "scale": {"domain": ["Exeprimental Data", "Fitted data", "Fitted Data"], "range": ["#111111", "#3ddc3d", "#e8141c"]},
        "legend": {"title": null, "legendX": 182.5, "legendY": 138, "symbolType": "M-2,0H2", "symbolSize": 156, "symbolStrokeWidth": 1.5, "labelFontSize": 12, "rowPadding": 1.5, "labelOffset": 9.5,
         "encode": {"symbols": {"update": {
          "shape": {"signal": "datum.value === 'Exeprimental Data' ? 'circle' : 'M-2,0H2'"},
          "size": {"signal": "datum.value === 'Exeprimental Data' ? 18 : 156"},
          "fill": {"signal": "datum.value === 'Exeprimental Data' ? '#111111' : 'transparent'"},
          "stroke": {"signal": "datum.value === 'Exeprimental Data' ? '#111111' : (datum.value === 'Fitted data' ? '#3ddc3d' : '#e8141c')"},
          "strokeWidth": {"value": 1.5}}}}}}
      }},
     {"data": {"name": "c"}, "transform": [{"filter": "datum.s === 'Fitted Data'"}], "mark": {"type": "line", "strokeWidth": 1.5, "clip": true},
      "encoding": {"x": {"field": "e", "type": "quantitative"}, "y": {"field": "v", "type": "quantitative"}, "detail": {"field": "g"},
       "color": {"field": "s", "type": "nominal", "scale": {"domain": ["Exeprimental Data", "Fitted data", "Fitted Data"], "range": ["#111111", "#3ddc3d", "#e8141c"]}}}},
     {"data": {"name": "c"}, "transform": [{"filter": "datum.s === 'Exeprimental Data'"}], "mark": {"type": "point", "filled": true, "size": 14, "opacity": 1, "clip": true},
      "encoding": {"x": {"field": "e", "type": "quantitative"}, "y": {"field": "v", "type": "quantitative"},
       "color": {"field": "s", "type": "nominal", "scale": {"domain": ["Exeprimental Data", "Fitted data", "Fitted Data"], "range": ["#111111", "#3ddc3d", "#e8141c"]}}}},
     {"data": {"values": [{"v": 124}]}, "mark": {"type": "rule", "color": "#111", "strokeWidth": 1.5}, "encoding": {"y": {"field": "v", "type": "quantitative"}}},
     {"data": {"name": "annC_sample"}, "mark": {"type": "text", "align": "left", "baseline": "middle", "fontSize": 17},
      "encoding": {"x": {"field": "e", "type": "quantitative"}, "y": {"field": "v", "type": "quantitative"}, "text": {"field": "t"}}},
     {"data": {"name": "annC_main"}, "mark": {"type": "text", "align": "right", "baseline": "middle", "fontSize": 14},
      "encoding": {"x": {"field": "e", "type": "quantitative"}, "y": {"field": "v", "type": "quantitative"}, "text": {"field": "t"}}},
     {"data": {"name": "annC_sub"}, "mark": {"type": "text", "align": "left", "baseline": "middle", "fontSize": 9},
      "encoding": {"x": {"field": "e", "type": "quantitative"}, "y": {"field": "v", "type": "quantitative"}, "text": {"field": "t"}}},
     {"data": {"name": "annC_label"}, "mark": {"type": "text", "align": "center", "baseline": "middle", "fontSize": 23},
      "encoding": {"x": {"field": "e", "type": "quantitative"}, "y": {"field": "v", "type": "quantitative"}, "text": {"field": "t"}}}
    ]
   }
  ]
 },
 {
  "spacing": 0,
  "vconcat": [
   {"width": 296, "height": 90, "view": {"stroke": null}, "data": {"values": [{"k": 1}]}, "mark": {"type": "point", "opacity": 0}, "encoding": {}},
   {
    "width": 296, "height": 230,
    "layer": [
     {"data": {"name": "b"}, "transform": [{"filter": "datum.g === 'uRed'"}], "mark": {"type": "line", "strokeWidth": 5, "color": "#e8141c", "clip": true},
      "encoding": {
       "x": {"field": "e", "type": "quantitative", "scale": {"domain": [536, 526], "nice": false, "zero": false}, "axis": {"title": "Binding energy (eV)", "values": [536,535,534,533,532,531,530,529,528,527,526], "labelExpr": "datum.value % 2 === 0 ? datum.label : ''", "labelPadding": 14, "titlePadding": 3, "labelFontSize": 14, "titleFontSize": 20}},
       "y": {"field": "v", "type": "quantitative", "scale": {"domain": [0, 230], "nice": false, "zero": false}, "axis": {"title": "Intensity (a.u.)", "titlePadding": 11}}
      }},
     {"data": {"name": "b"}, "transform": [{"filter": "datum.g === 'lBlack'"}], "mark": {"type": "line", "strokeWidth": 4, "color": "#111111", "clip": true},
      "encoding": {"x": {"field": "e", "type": "quantitative"}, "y": {"field": "v", "type": "quantitative"}}},
     {"data": {"name": "b"}, "transform": [{"filter": "datum.g !== 'uRed' && datum.g !== 'lBlack'"}], "mark": {"type": "line", "strokeWidth": 1.2, "color": "#3ddc3d", "clip": true},
      "encoding": {"x": {"field": "e", "type": "quantitative"}, "y": {"field": "v", "type": "quantitative"}, "detail": {"field": "g"}}},
     {"data": {"values": [{"v": 110.5}]}, "mark": {"type": "rule", "color": "#111", "strokeWidth": 1.5}, "encoding": {"y": {"field": "v", "type": "quantitative"}}},
     {"data": {"name": "annB_text"}, "mark": {"type": "text", "align": "left", "baseline": "middle", "fontSize": 16.5},
      "encoding": {"x": {"field": "e", "type": "quantitative"}, "y": {"field": "v", "type": "quantitative"}, "text": {"field": "t"}}},
     {"data": {"name": "annB_label"}, "mark": {"type": "text", "align": "center", "baseline": "middle", "fontSize": 23},
      "encoding": {"x": {"field": "e", "type": "quantitative"}, "y": {"field": "v", "type": "quantitative"}, "text": {"field": "t"}}}
    ]
   }
  ]
 }
]
}
